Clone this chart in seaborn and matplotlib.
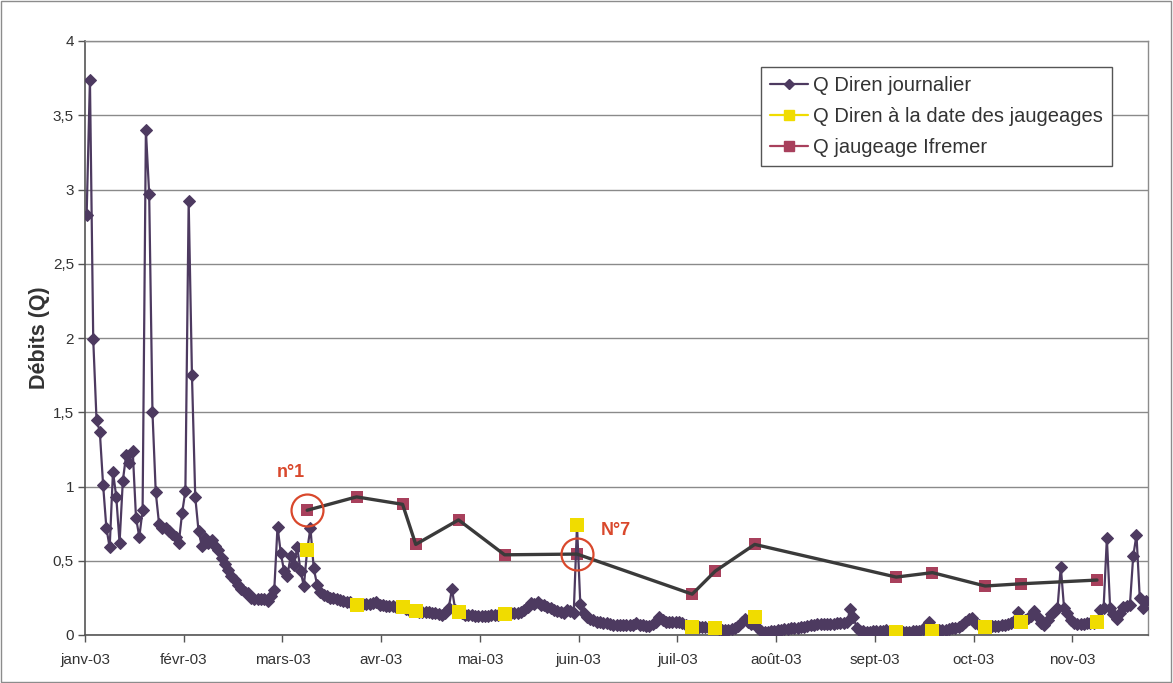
import matplotlib
matplotlib.use("Agg")
import matplotlib.pyplot as plt
from matplotlib.lines import Line2D
from matplotlib.patches import Rectangle
import seaborn as sns
import pandas as pd

# Month labels placed every 30 daily records
mois = ["janv-03", "févr-03", "mars-03", "avr-03", "mai-03", "juin-03",
        "juil-03", "août-03", "sept-03", "oct-03", "nov-03"]

# Daily discharge (Diren station), one value per record
q_diren_journalier = [
    2.83, 3.74, 1.99, 1.45, 1.37, 1.01, 0.72, 0.59, 1.10, 0.93,
    0.62, 1.04, 1.21, 1.16, 1.24, 0.79, 0.66, 0.84, 3.40, 2.97,
    1.50, 0.96, 0.75, 0.72, 0.72, 0.70, 0.68, 0.66, 0.62, 0.82,
    0.97, 2.92, 1.75, 0.93, 0.70, 0.60, 0.65, 0.62, 0.64, 0.60,
    0.57, 0.52, 0.48, 0.44, 0.40, 0.37, 0.34, 0.31, 0.29, 0.28,
    0.25, 0.245, 0.24, 0.24, 0.24, 0.23, 0.26, 0.30, 0.73, 0.55,
    0.43, 0.40, 0.53, 0.47, 0.59, 0.43, 0.33, 0.57, 0.72, 0.45,
    0.34, 0.29, 0.27, 0.26, 0.25, 0.247, 0.24, 0.236, 0.23, 0.225,
    0.22, 0.21, 0.20, 0.205, 0.209, 0.207, 0.21, 0.215, 0.22, 0.205,
    0.20, 0.198, 0.195, 0.193, 0.19, 0.19, 0.19, 0.175, 0.168, 0.165,
    0.16, 0.158, 0.157, 0.155, 0.153, 0.151, 0.148, 0.14, 0.135, 0.15,
    0.18, 0.31, 0.17, 0.157, 0.145, 0.135, 0.135, 0.132, 0.13, 0.128,
    0.128, 0.128, 0.13, 0.132, 0.135, 0.137, 0.14, 0.144, 0.145, 0.146,
    0.146, 0.15, 0.157, 0.17, 0.19, 0.215, 0.21, 0.22, 0.205, 0.20,
    0.19, 0.18, 0.17, 0.16, 0.155, 0.15, 0.165, 0.16, 0.146, 0.74,
    0.207, 0.15, 0.124, 0.11, 0.10, 0.09, 0.085, 0.08, 0.079, 0.075,
    0.07, 0.067, 0.067, 0.067, 0.067, 0.067, 0.07, 0.079, 0.07, 0.065,
    0.061, 0.063, 0.075, 0.085, 0.12, 0.10, 0.09, 0.09, 0.09, 0.088,
    0.085, 0.08, 0.07, 0.06, 0.056, 0.056, 0.055, 0.054, 0.052, 0.05,
    0.048, 0.045, 0.04, 0.036, 0.034, 0.036, 0.04, 0.045, 0.06, 0.085,
    0.106, 0.09, 0.075, 0.119, 0.045, 0.03, 0.022, 0.02, 0.025, 0.03,
    0.034, 0.036, 0.04, 0.042, 0.045, 0.048, 0.05, 0.053, 0.056, 0.06,
    0.065, 0.07, 0.074, 0.074, 0.074, 0.074, 0.074, 0.076, 0.078, 0.08,
    0.083, 0.085, 0.173, 0.124, 0.045, 0.03, 0.025, 0.022, 0.022, 0.024,
    0.026, 0.028, 0.03, 0.032, 0.028, 0.022, 0.018, 0.02, 0.022, 0.022,
    0.022, 0.024, 0.026, 0.03, 0.04, 0.06, 0.085, 0.025, 0.03, 0.032,
    0.034, 0.036, 0.04, 0.045, 0.05, 0.056, 0.07, 0.09, 0.105, 0.115,
    0.08, 0.067, 0.06, 0.052, 0.055, 0.058, 0.06, 0.062, 0.065, 0.07,
    0.075, 0.08, 0.10, 0.155, 0.09, 0.10, 0.112, 0.13, 0.16, 0.12,
    0.08, 0.067, 0.10, 0.14, 0.157, 0.18, 0.46, 0.18, 0.146, 0.10,
    0.079, 0.076, 0.075, 0.076, 0.078, 0.08, 0.082, 0.086, 0.169, 0.18,
    0.652, 0.18, 0.14, 0.106, 0.15, 0.19, 0.195, 0.20, 0.53, 0.674,
    0.247, 0.18, 0.23,
]

# Records on which an Ifremer gauging was carried out
jours_jaugeage = [67, 82, 96, 100, 113, 127, 149, 184, 191, 203, 246, 257, 273, 284, 307]

# Discharge measured by Ifremer on those days
q_jaugeage_ifremer = [0.84, 0.93, 0.88, 0.61, 0.775, 0.54, 0.545, 0.275, 0.43,
                      0.61, 0.39, 0.42, 0.33, 0.345, 0.37]

# Gaugings singled out on the chart
reperes = [(0, "n°1"), (6, "N°7")]

# Diren discharge on the gauging days
q_diren_jaugeage = [q_diren_journalier[j] for j in jours_jaugeage]

df_jour = pd.DataFrame({"jour": range(len(q_diren_journalier)),
                        "debit": q_diren_journalier})
df_jaug = pd.DataFrame({"jour": jours_jaugeage,
                        "diren": q_diren_jaugeage,
                        "ifremer": q_jaugeage_ifremer})

c_jour = "#4d3a60"
c_jaune = "#f0dc00"
c_ifremer = "#a8405c"
c_trait = "#3a3a3a"
c_rouge = "#d9482c"

sns.set_theme(style="white")
plt.rcParams["font.family"] = ["Liberation Sans", "DejaVu Sans"]

fig = plt.figure(figsize=(11.73, 6.83), dpi=100)
fig.patches.append(Rectangle((0.001, 0.001), 0.997, 0.997, transform=fig.transFigure,
                             fill=False, edgecolor="#8c8c8c", linewidth=1.0))
ax = fig.add_axes([85 / 1173, 1 - 635 / 683, (1148 - 85) / 1173, (635 - 41) / 683])

# Ifremer gauging markers (underneath everything else)
sns.scatterplot(data=df_jaug, x="jour", y="ifremer", ax=ax, marker="s", s=85,
                color=c_ifremer, edgecolor=c_ifremer, linewidth=0, zorder=2, legend=False)

# Daily series
sns.lineplot(data=df_jour, x="jour", y="debit", ax=ax, color=c_jour, linewidth=1.6,
             marker="D", markersize=6.5, markeredgecolor=c_jour, zorder=3, legend=False)

# Diren values on gauging days
sns.scatterplot(data=df_jaug, x="jour", y="diren", ax=ax, marker="s", s=90,
                color=c_jaune, edgecolor=c_jaune, linewidth=0, zorder=4, legend=False)

# Line joining the Ifremer gaugings
sns.lineplot(data=df_jaug, x="jour", y="ifremer", ax=ax, color=c_trait, linewidth=2.4,
             zorder=5, legend=False)

# Circled gaugings with their labels
decalages = {"n°1": (-16, 38), "N°7": (39, 24)}
for k, txt in reperes:
    xj, yj = jours_jaugeage[k], q_jaugeage_ifremer[k]
    ax.plot([xj], [yj], marker="o", markersize=23, markerfacecolor="none",
            markeredgecolor=c_rouge, markeredgewidth=1.6, zorder=6, linestyle="none")
    ax.annotate(txt, (xj, yj), xytext=decalages[txt], textcoords="offset pixels",
                ha="center", va="center", fontsize=13, fontweight="bold", color=c_rouge)

# Axes
ax.set_xlim(-0.5, len(q_diren_journalier) - 0.5)
ax.set_ylim(0, 4)
ax.set_xticks([-0.5 + 30 * k for k in range(len(mois))])
ax.set_xticklabels(mois)
yt = [0.5 * k for k in range(9)]
ax.set_yticks(yt)
ax.set_yticklabels([f"{v:g}".replace(".", ",") for v in yt])
ax.tick_params(axis="both", which="major", labelsize=11, length=5, width=1,
               color="#555555", labelcolor="#333333", direction="out",
               bottom=True, left=True, pad=3)
ax.tick_params(axis="x", pad=8)
ax.yaxis.grid(True, color="#8a8a8a", linewidth=1.0)
ax.xaxis.grid(False)
ax.set_axisbelow(True)
for s in ["left", "bottom"]:
    ax.spines[s].set_color("#555555")
    ax.spines[s].set_linewidth(1.2)
for s in ["right", "top"]:
    ax.spines[s].set_color("#8c8c8c")
    ax.spines[s].set_linewidth(1.0)

ax.set_xlabel("")
ax.set_ylabel("Débits (Q)", fontsize=15.5, fontweight="bold", color="#333333", labelpad=2)

# Legend
poignees = [
    Line2D([], [], color=c_jour, marker="D", markersize=5.5, linewidth=1.6),
    Line2D([], [], color=c_jaune, marker="s", markersize=7.5, linewidth=1.6),
    Line2D([], [], color=c_ifremer, marker="s", markersize=7.5, linewidth=1.6),
]
noms = ["Q Diren journalier", "Q Diren à la date des jaugeages", "Q jaugeage Ifremer"]
leg = ax.legend(poignees, noms, loc="upper right", bbox_to_anchor=(0.9665, 0.957),
                fontsize=14.5, frameon=True, fancybox=False, framealpha=1,
                edgecolor="#555555", handlelength=1.9, handletextpad=0.25,
                labelspacing=0.6, borderpad=0.45, borderaxespad=0)
leg.get_frame().set_linewidth(1.0)
for t in leg.get_texts():
    t.set_color("#333333")

fig.savefig("out.png", dpi=100)
